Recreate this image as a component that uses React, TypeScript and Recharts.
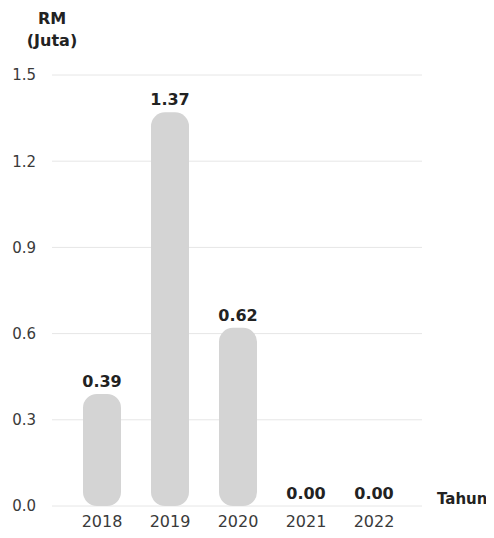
import React from "react";
import { ComposedChart, Bar, Line, XAxis, YAxis, CartesianGrid, LabelList } from "recharts";

const years = ["2018", "2019", "2020", "2021", "2022"];
const values = [0.39, 1.37, 0.62, 0.0, 0.0];
const yTicks = [0, 0.3, 0.6, 0.9, 1.2, 1.5];

const data = years.map((y, i) => ({ year: y, value: values[i] }));

const FONT = "'DejaVu Sans', sans-serif";

export default function App() {
  return (
    <div style={{ position: "relative", width: 486, height: 530, fontFamily: FONT }}>
      <div
        style={{
          position: "absolute",
          left: 0,
          width: 88,
          top: 0,
          textAlign: "center",
          fontWeight: "bold",
          fontSize: 16,
          lineHeight: "22px",
          color: "#222",
        }}
      >
        RM
        <br />
        (Juta)
      </div>
      <div
        style={{
          position: "absolute",
          left: 429,
          top: 482,
          fontWeight: "bold",
          fontSize: 15,
          color: "#222",
        }}
      >
        Tahun
      </div>
      <ComposedChart
        width={486}
        height={530}
        data={data}
        margin={{ top: 67, right: 72, bottom: 0, left: 0 }}
        barCategoryGap={15}
      >
        <CartesianGrid vertical={false} stroke="#e6e6e6" strokeWidth={1} />
        <XAxis
          dataKey="year"
          axisLine={false}
          tickLine={false}
          height={32}
          padding={{ left: 16, right: 14 }}
          tick={{ fontSize: 16, fill: "#3a3a3a", fontFamily: FONT }}
          tickMargin={4}
          interval={0}
        />
        <YAxis
          width={44}
          domain={[0, 1.5]}
          ticks={yTicks}
          axisLine={false}
          tickLine={false}
          tickSize={6}
          tickMargin={10}
          tickFormatter={(v: number) => v.toFixed(1)}
          tick={{ fontSize: 15, fill: "#3a3a3a", fontFamily: FONT }}
        />
        <Bar dataKey="value" fill="#d4d4d4" radius={[14, 14, 14, 14]} isAnimationActive={false} />
        <Line
          dataKey="value"
          stroke="none"
          dot={false}
          activeDot={false}
          isAnimationActive={false}
        >
          <LabelList
            dataKey="value"
            position="top"
            offset={7}
            formatter={(v: number) => Number(v).toFixed(2)}
            style={{ fontSize: 16, fontWeight: "bold", fill: "#222", fontFamily: FONT }}
          />
        </Line>
      </ComposedChart>
    </div>
  );
}
